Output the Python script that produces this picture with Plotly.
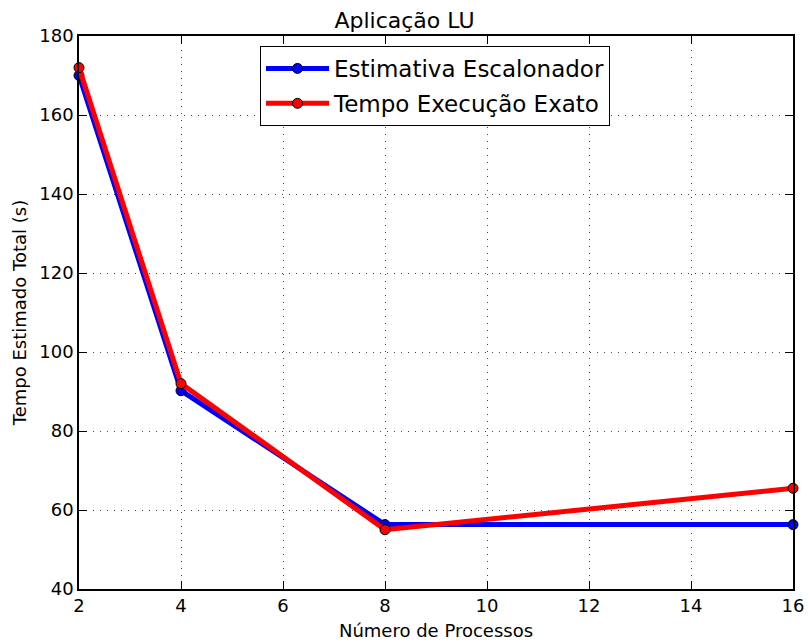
import plotly.graph_objects as go

processos = [2, 4, 8, 16]
estimativa = [170.0, 90.2, 56.3, 56.3]
exato = [172.0, 92.0, 55.0, 65.5]

fig = go.Figure()
fig.add_trace(go.Scatter(
    x=processos, y=estimativa, mode="lines+markers", name="Estimativa Escalonador",
    line=dict(color="#0000ff", width=5),
    marker=dict(color="#0000ff", size=10, line=dict(color="black", width=1)),
    cliponaxis=False, legendgroup="a",
))
fig.add_trace(go.Scatter(
    x=processos, y=exato, mode="lines+markers", name="Tempo Execução Exato",
    line=dict(color="#ff0000", width=5),
    marker=dict(color="#ff0000", size=10, line=dict(color="black", width=1)),
    cliponaxis=False, legendgroup="b",
))

font = "DejaVu Sans, sans-serif"
axis_common = dict(
    showline=True, linecolor="black", linewidth=1.5, mirror="ticks",
    ticks="inside", ticklen=8, tickwidth=1, tickcolor="black",
    showgrid=True, gridcolor="#444444", gridwidth=1, griddash="1px,6px",
    zeroline=False, tickfont=dict(family=font, size=18, color="black"),
    automargin=False,
)
fig.update_layout(
    width=809, height=642,
    margin=dict(l=79, r=16, t=36, b=53),
    paper_bgcolor="white", plot_bgcolor="white",
    title=dict(text="Aplicação LU", x=0.5, xanchor="center", y=0.968, yanchor="middle",
               font=dict(family=font, size=22, color="black")),
    font=dict(family=font, color="black"),
    xaxis=dict(range=[2, 16], tickvals=[2, 4, 6, 8, 10, 12, 14, 16],
               title=dict(text="Número de Processos", font=dict(family=font, size=18), standoff=9),
               **axis_common),
    yaxis=dict(range=[40, 180], tickvals=[40, 60, 80, 100, 120, 140, 160, 180],
               title=dict(text="Tempo Estimado Total (s)", font=dict(family=font, size=18), standoff=8),
               **axis_common),
    legend=dict(x=0.2535, y=0.982, xanchor="left", yanchor="top",
                bordercolor="black", borderwidth=1, bgcolor="white",
                font=dict(family=font, size=23, color="black"),
                itemwidth=63, tracegroupgap=2),
    showlegend=True,
)
fig.write_html("out.html")
